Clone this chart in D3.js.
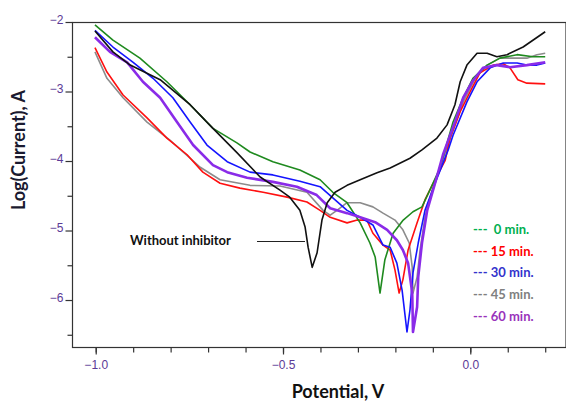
<!doctype html>
<html lang="en">
  <head>
    <meta charset="utf-8">
    <title>Log(Current) vs Potential</title>
    <script src="https://d3js.org/d3.v7.min.js"></script>
    <style>
      body { margin: 0; background: #fff; }
      text { font-family: Lato, "Open Sans", sans-serif; }
    </style>
  </head>
  <body>
    <div id="container"></div>
  </body>
  <script>
    // Chart values: [potential V, log(current) A]
    const seriesNames = ["Without inhibitor", "0 min.", "15 min.", "30 min.", "45 min.", "60 min."]

    const blankData = [[-1.002,-2.13],[-0.954,-2.43],[-0.908,-2.62],[-0.828,-2.83],[-0.748,-3.19],[-0.687,-3.53],
      [-0.623,-3.88],[-0.561,-4.23],[-0.508,-4.42],[-0.482,-4.52],[-0.455,-4.71],[-0.441,-4.95],[-0.433,-5.24],
      [-0.422,-5.53],[-0.409,-5.32],[-0.396,-4.85],[-0.382,-4.60],[-0.361,-4.45],[-0.329,-4.35],[-0.294,-4.27],
      [-0.249,-4.17],[-0.214,-4.10],[-0.161,-3.96],[-0.129,-3.84],[-0.089,-3.67],[-0.062,-3.48],[-0.041,-3.19],
      [-0.027,-2.86],[-0.009,-2.62],[0.018,-2.45],[0.045,-2.45],[0.071,-2.50],[0.098,-2.47],[0.141,-2.36],[0.200,-2.14]]

    const min0Data = [[-1.002,-2.04],[-0.954,-2.26],[-0.882,-2.52],[-0.810,-2.86],[-0.748,-3.19],[-0.687,-3.53],
      [-0.623,-3.74],[-0.588,-3.87],[-0.527,-4.01],[-0.455,-4.13],[-0.401,-4.27],[-0.367,-4.45],[-0.329,-4.60],
      [-0.294,-4.89],[-0.268,-5.18],[-0.254,-5.38],[-0.241,-5.90],[-0.228,-5.42],[-0.206,-5.04],[-0.179,-4.85],
      [-0.153,-4.73],[-0.129,-4.66],[-0.108,-4.42],[-0.081,-4.10],[-0.046,-3.44],[-0.019,-3.09],[0.007,-2.81],
      [0.045,-2.62],[0.079,-2.52],[0.125,-2.47],[0.167,-2.50],[0.200,-2.50]]

    const min15Data = [[-1.002,-2.37],[-0.970,-2.72],[-0.927,-3.05],[-0.863,-3.38],[-0.810,-3.67],[-0.756,-3.91],
      [-0.714,-4.16],[-0.668,-4.32],[-0.615,-4.39],[-0.553,-4.45],[-0.489,-4.52],[-0.436,-4.59],[-0.401,-4.71],
      [-0.374,-4.81],[-0.329,-4.89],[-0.302,-4.85],[-0.276,-4.85],[-0.260,-5.04],[-0.233,-5.21],[-0.214,-5.28],
      [-0.201,-5.57],[-0.190,-5.90],[-0.180,-5.71],[-0.166,-5.28],[-0.142,-4.89],[-0.121,-4.56],[-0.099,-4.32],
      [-0.067,-3.99],[-0.054,-3.67],[-0.027,-3.29],[-0.001,-3.01],[0.026,-2.73],[0.061,-2.62],[0.088,-2.60],
      [0.106,-2.66],[0.127,-2.83],[0.151,-2.88],[0.200,-2.89]]

    const min30Data = [[-1.002,-2.12],[-0.954,-2.36],[-0.900,-2.58],[-0.847,-2.81],[-0.794,-3.09],[-0.748,-3.44],
      [-0.703,-3.77],[-0.649,-4.01],[-0.588,-4.16],[-0.527,-4.20],[-0.455,-4.29],[-0.401,-4.37],[-0.367,-4.53],
      [-0.329,-4.71],[-0.294,-4.81],[-0.260,-4.92],[-0.233,-5.21],[-0.214,-5.24],[-0.196,-5.47],[-0.182,-5.86],
      [-0.169,-6.46],[-0.161,-6.14],[-0.153,-5.61],[-0.139,-5.18],[-0.121,-4.71],[-0.094,-4.32],[-0.059,-3.84],
      [-0.046,-3.63],[-0.009,-3.15],[0.018,-2.86],[0.053,-2.66],[0.088,-2.59],[0.125,-2.59],[0.151,-2.62],
      [0.178,-2.62],[0.200,-2.59]]

    const min45Data = [[-1.002,-2.43],[-0.970,-2.81],[-0.927,-3.09],[-0.863,-3.44],[-0.802,-3.70],[-0.721,-4.09],
      [-0.668,-4.27],[-0.588,-4.35],[-0.508,-4.36],[-0.436,-4.45],[-0.393,-4.71],[-0.374,-4.78],[-0.356,-4.71],
      [-0.329,-4.60],[-0.294,-4.60],[-0.260,-4.66],[-0.233,-4.75],[-0.201,-4.85],[-0.180,-4.99],[-0.163,-5.18],
      [-0.155,-5.53],[-0.153,-5.90],[-0.142,-5.67],[-0.134,-5.28],[-0.121,-4.81],[-0.102,-4.42],[-0.081,-4.10],
      [-0.041,-3.48],[-0.019,-3.15],[0.013,-2.81],[0.045,-2.62],[0.079,-2.52],[0.114,-2.52],[0.151,-2.52],
      [0.178,-2.47],[0.200,-2.45]]

    const min60Data = [[-1.002,-2.22],[-0.962,-2.43],[-0.916,-2.58],[-0.874,-2.86],[-0.828,-3.09],[-0.783,-3.44],
      [-0.740,-3.77],[-0.687,-4.06],[-0.649,-4.16],[-0.596,-4.24],[-0.527,-4.30],[-0.463,-4.37],[-0.410,-4.49],
      [-0.374,-4.68],[-0.329,-4.75],[-0.294,-4.81],[-0.254,-4.88],[-0.222,-4.99],[-0.196,-5.14],[-0.180,-5.28],
      [-0.166,-5.47],[-0.155,-5.90],[-0.153,-6.46],[-0.142,-6.10],[-0.139,-5.67],[-0.129,-5.18],[-0.115,-4.71],
      [-0.094,-4.32],[-0.073,-3.91],[-0.041,-3.44],[-0.019,-3.09],[0.005,-2.86],[0.034,-2.66],[0.071,-2.62],
      [0.106,-2.65],[0.151,-2.62],[0.200,-2.58]]

    const xTickValues = [-1.0, -0.5, 0.0]
    const yTickValues = [-2, -3, -4, -5, -6]

    const width = 566
    const height = 404
    const plot = {left: 72, top: 22, right: 565.5, bottom: 347}

    const x = d3.scaleLinear().domain([-1.0633, 0.2555]).range([plot.left, 566])
    const y = d3.scaleLinear().domain([-6.676, -2]).range([plot.bottom, plot.top])

    const svg = d3.select("#container")
      .append("svg")
        .attr("width", width)
        .attr("height", height)

    const labelColor = "#5b3a96"

    // plot frame
    svg.append("rect")
      .attr("x", plot.left + 0.5)
      .attr("y", plot.top + 0.5)
      .attr("width", plot.right - plot.left)
      .attr("height", plot.bottom - plot.top)
      .attr("fill", "none")
      .attr("stroke", "#333")
      .attr("stroke-width", 1.2)

    // x axis: major ticks + minor every 0.1
    const xAxis = d3.axisBottom(x).tickValues(xTickValues).tickSize(7).tickFormat(d3.format(".1f"))
    const gx = svg.append("g").attr("transform", `translate(0,${plot.bottom + 0.5})`).call(xAxis)
    gx.select(".domain").remove()
    gx.selectAll("text").attr("fill", labelColor).attr("font-size", 12).attr("dy", "0.95em")
      .style("font-family", "'Liberation Sans', Arial, sans-serif")
    const gxMinor = svg.append("g").attr("transform", `translate(0,${plot.bottom + 0.5})`)
      .call(d3.axisBottom(x).tickValues(d3.range(-1.0, 0.25, 0.1)).tickSize(5).tickFormat(""))
    gxMinor.select(".domain").remove()
    svg.selectAll(".tick line").attr("stroke", "#333").attr("stroke-width", 1.2)

    // y axis
    const yAxis = d3.axisLeft(y).tickValues(yTickValues).tickSize(7).tickFormat(d3.format("d"))
    const gy = svg.append("g").attr("transform", `translate(${plot.left + 0.5},0)`).call(yAxis)
    gy.select(".domain").remove()
    gy.selectAll("text").attr("fill", labelColor).attr("font-size", 12).attr("x", -9).attr("dy", "0.1em")
      .style("font-family", "'Liberation Sans', Arial, sans-serif")
    const gyMinor = svg.append("g").attr("transform", `translate(${plot.left + 0.5},0)`)
      .call(d3.axisLeft(y).tickValues([-2.5, -3.5, -4.5, -5.5, -6.5]).tickSize(5).tickFormat(""))
    gyMinor.select(".domain").remove()
    svg.selectAll(".tick line").attr("stroke", "#333").attr("stroke-width", 1.2)

    // axis titles
    svg.append("text")
      .attr("x", 338).attr("y", 398)
      .attr("text-anchor", "middle")
      .attr("font-size", 18).attr("font-weight", "bold")
      .attr("fill", "#111")
      .text("Potential, V")

    svg.append("text")
      .attr("transform", "translate(25,150) rotate(-90)")
      .attr("text-anchor", "middle")
      .attr("font-size", 18).attr("font-weight", "bold")
      .attr("fill", "#1a1a30")
      .text("Log(Current), A")

    // curves
    const line = d3.line().x(d => x(d[0])).y(d => y(d[1]))
    const curves = [
      {data: min45Data, color: "#8c8c8c", w: 1.6},
      {data: min15Data, color: "#ff1010", w: 1.6},
      {data: min0Data, color: "#1f8a1f", w: 1.6},
      {data: min30Data, color: "#1414ff", w: 1.6},
      {data: min60Data, color: "#8a2be8", w: 2.6},
      {data: blankData, color: "#111111", w: 1.6}
    ]
    curves.forEach(c => {
      svg.append("path")
        .attr("d", line(c.data))
        .attr("fill", "none")
        .attr("stroke", c.color)
        .attr("stroke-width", c.w)
        .attr("stroke-linejoin", "round")
    })

    // annotation
    svg.append("text")
      .attr("x", 130).attr("y", 245)
      .attr("font-size", 13).attr("font-weight", "bold")
      .attr("fill", "#111")
      .text(seriesNames[0])
    svg.append("line")
      .attr("x1", 257).attr("y1", 241.5).attr("x2", 305).attr("y2", 241.5)
      .attr("stroke", "#222").attr("stroke-width", 1.2)

    // legend
    const legendColors = ["#00b050", "#ff0000", "#3333cc", "#808080", "#9933bb"]
    const legendLabels = ["\u00a00 min.", "15 min.", "30 min.", "45 min.", "60 min."]
    legendLabels.forEach((lab, i) => {
      svg.append("text")
        .attr("x", 473).attr("y", 234 + i * 21.7)
        .attr("font-size", 13).attr("font-weight", "bold")
        .attr("fill", legendColors[i])
        .style("white-space", "pre")
        .text("--- " + lab)
    })
  </script>
</html>
